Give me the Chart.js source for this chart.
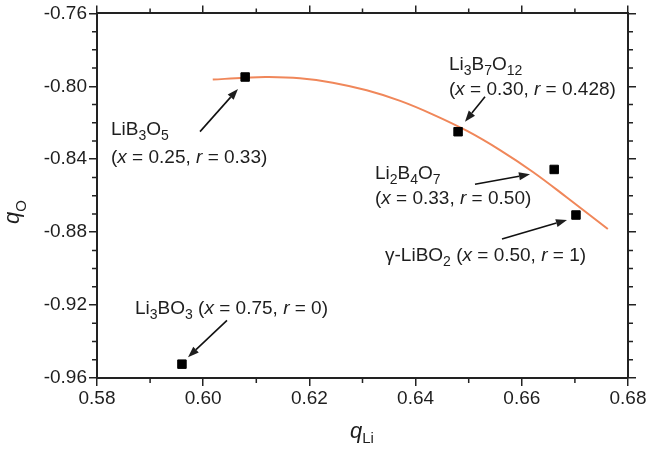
<!DOCTYPE html>
<html><head><meta charset="utf-8">
<script src="https://cdn.jsdelivr.net/npm/chart.js@4.4.1/dist/chart.umd.min.js"></script>
<style>html,body{margin:0;padding:0;background:#fff}#wrap{width:648px;height:450px}</style>
</head><body><div id="wrap"><canvas id="c" width="648" height="450"></canvas></div>
<script>
// ---- data ----
const compounds = ['LiB3O5', 'Li3B7O12', 'Li2B4O7', 'γ-LiBO2', 'Li3BO3'];
const qLi = [0.6079, 0.6480, 0.6661, 0.6702, 0.5960];
const qO  = [-0.7949, -0.8249, -0.8456, -0.8706, -0.9524];
const fitQLi = [0.6018, 0.6079, 0.6120, 0.6182, 0.6244, 0.6308, 0.6371, 0.6433, 0.6497, 0.6559, 0.6621, 0.6685, 0.6762];
const fitQO  = [-0.7963, -0.7953, -0.7949, -0.7956, -0.7980, -0.8022, -0.8080, -0.8155, -0.8245, -0.8350, -0.8470, -0.8610, -0.8783];
const xTicks = [0.58, 0.60, 0.62, 0.64, 0.66, 0.68];
const yTicks = [-0.96, -0.92, -0.88, -0.84, -0.80, -0.76];
const xMinor = [0.59, 0.61, 0.63, 0.65, 0.67];
const yMinor = [-0.95, -0.94, -0.93, -0.91, -0.90, -0.89, -0.87, -0.86, -0.85, -0.83, -0.82, -0.81, -0.79, -0.78, -0.77];

// annotation texts (markup: _{..} subscript, *..* italic), anchored in data coordinates
const notes = [
  { lines: ['LiB_{3}O_{5}', '(*x* = 0.25, *r* = 0.33)'], x: 0.58264, y: [-0.82649, -0.84229],
    arrow: [0.59940, -0.82485, 0.60655, -0.80142] },
  { lines: ['Li_{3}B_{7}O_{12}', '(*x* = 0.30, *r* = 0.428)'], x: 0.64629, y: [-0.79106, -0.80469],
    arrow: [0.65307, -0.80578, 0.64930, -0.81940] },
  { lines: ['Li_{2}B_{4}O_{7}', '(*x* = 0.33, *r* = 0.50)'], x: 0.63235, y: [-0.85101, -0.86463],
    arrow: [0.65119, -0.85373, 0.66154, -0.84828] },
  { lines: ['γ-LiBO_{2} (*x* = 0.50, *r* = 1)'], x: 0.63424, y: [-0.89569],
    arrow: [0.65627, -0.88371, 0.66851, -0.87335] },
  { lines: ['Li_{3}BO_{3} (*x* = 0.75, *r* = 0)'], x: 0.58716, y: [-0.92512],
    arrow: [0.60448, -0.92839, 0.59714, -0.94856] }
];

const FAMILY = '"Liberation Sans", Arial, Helvetica, sans-serif';
const TXT = '#1e1e1e';
const AX = '#222';

function parse(str) {
  const out = []; let it = false; let buf = ''; let i = 0;
  const push = () => { if (buf) { out.push({ t: buf, it, sub: false }); buf = ''; } };
  while (i < str.length) {
    const c = str[i];
    if (c === '*') { push(); it = !it; i++; continue; }
    if (c === '_' && str[i + 1] === '{') {
      push(); const j = str.indexOf('}', i);
      out.push({ t: str.slice(i + 2, j), it, sub: true }); i = j + 1; continue;
    }
    buf += c; i++;
  }
  push();
  return out;
}
function richWidth(ctx, str, size, subSize) {
  let w = 0;
  for (const s of parse(str)) {
    ctx.font = (s.it ? 'italic ' : '') + (s.sub ? subSize : size) + 'px ' + FAMILY;
    w += ctx.measureText(s.t).width;
  }
  return w;
}
function drawRich(ctx, str, x, y, size, subSize, subOff) {
  let cx = x;
  for (const s of parse(str)) {
    ctx.font = (s.it ? 'italic ' : '') + (s.sub ? subSize : size) + 'px ' + FAMILY;
    ctx.fillText(s.t, cx, y + (s.sub ? subOff : 0));
    cx += ctx.measureText(s.t).width;
  }
}
function arrow(ctx, x1, y1, x2, y2) {
  const a = Math.atan2(y2 - y1, x2 - x1), L = 11, W = 4;
  const bx = x2 - L * Math.cos(a), by = y2 - L * Math.sin(a);
  ctx.beginPath(); ctx.moveTo(x1, y1); ctx.lineTo(bx, by); ctx.stroke();
  ctx.beginPath();
  ctx.moveTo(x2, y2);
  ctx.lineTo(bx + W * Math.sin(a), by - W * Math.cos(a));
  ctx.lineTo(bx - W * Math.sin(a), by + W * Math.cos(a));
  ctx.closePath(); ctx.fill();
}

const decor = {
  id: 'decor',
  afterDraw(chart) {
    const ctx = chart.ctx, xs = chart.scales.x, ys = chart.scales.y, a = chart.chartArea;
    ctx.save();
    // minor ticks
    ctx.strokeStyle = AX; ctx.lineWidth = 1.5;
    ctx.beginPath();
    for (const v of xMinor) {
      const p = xs.getPixelForValue(v);
      ctx.moveTo(p, a.bottom); ctx.lineTo(p, a.bottom + 5);
      ctx.moveTo(p, a.top); ctx.lineTo(p, a.top - 5);
    }
    for (const v of yMinor) {
      const p = ys.getPixelForValue(v);
      ctx.moveTo(a.left, p); ctx.lineTo(a.left - 5, p);
      ctx.moveTo(a.right, p); ctx.lineTo(a.right + 5, p);
    }
    ctx.stroke();
    // annotations
    ctx.fillStyle = TXT; ctx.strokeStyle = '#111'; ctx.lineWidth = 1.6;
    ctx.textBaseline = 'alphabetic'; ctx.textAlign = 'left';
    for (const n of notes) {
      const px = xs.getPixelForValue(n.x);
      n.lines.forEach((ln, i) => drawRich(ctx, ln, px, ys.getPixelForValue(n.y[i]), 19, 14, 5));
      arrow(ctx, xs.getPixelForValue(n.arrow[0]), ys.getPixelForValue(n.arrow[1]),
                 xs.getPixelForValue(n.arrow[2]), ys.getPixelForValue(n.arrow[3]));
    }
    // axis titles
    drawRich(ctx, '*q*_{Li}', 350, 438, 22, 15, 5);
    ctx.translate(19, 212);
    ctx.rotate(-Math.PI / 2);
    const w = richWidth(ctx, '*q*_{O}', 22, 15);
    drawRich(ctx, '*q*_{O}', -w / 2, 0, 22, 15, 7);
    ctx.restore();
  }
};

const tickFont = { family: FAMILY, size: 19 };
const common = (min, max, ticksArr) => ({
  type: 'linear', min, max,
  afterBuildTicks: s => { s.ticks = ticksArr.map(v => ({ value: v })); },
  grid: { drawOnChartArea: false, drawTicks: true, tickLength: 8, color: AX, lineWidth: 1.5 },
  border: { display: true, color: AX, width: 2 }
});

new Chart(document.getElementById('c').getContext('2d'), {
  type: 'scatter',
  data: {
    datasets: [
      { type: 'line', label: 'fit', data: fitQLi.map((x, i) => ({ x, y: fitQO[i] })),
        borderColor: '#f0875a', borderWidth: 2, pointRadius: 0, fill: false,
        tension: 0.4, order: 2 },
      { type: 'scatter', label: 'compounds', data: qLi.map((x, i) => ({ x, y: qO[i], name: compounds[i] })),
        pointStyle: 'rect', pointRadius: 6, backgroundColor: '#000', borderColor: '#000', borderWidth: 1, order: 1 }
    ]
  },
  options: {
    responsive: false, animation: false, devicePixelRatio: 1,
    layout: { padding: 0 },
    plugins: { legend: { display: false }, tooltip: { enabled: false } },
    scales: {
      x: Object.assign(common(0.58, 0.68, xTicks), {
        position: 'bottom',
        ticks: { callback: v => v.toFixed(2), font: tickFont, color: TXT, padding: 1, maxRotation: 0, autoSkip: false },
        afterFit: s => { s.height = 72; }
      }),
      y: Object.assign(common(-0.96, -0.76, yTicks), {
        position: 'left',
        ticks: { callback: v => v.toFixed(2), font: tickFont, color: TXT, padding: 2, autoSkip: false },
        afterFit: s => { s.width = 97; }
      }),
      x2: Object.assign(common(0.58, 0.68, xTicks), {
        position: 'top', ticks: { display: false },
        afterFit: s => { s.height = 11; }
      }),
      y2: Object.assign(common(-0.96, -0.76, yTicks), {
        position: 'right', ticks: { display: false },
        afterFit: s => { s.width = 20; }
      })
    }
  },
  plugins: [decor]
});
</script>
</body></html>
